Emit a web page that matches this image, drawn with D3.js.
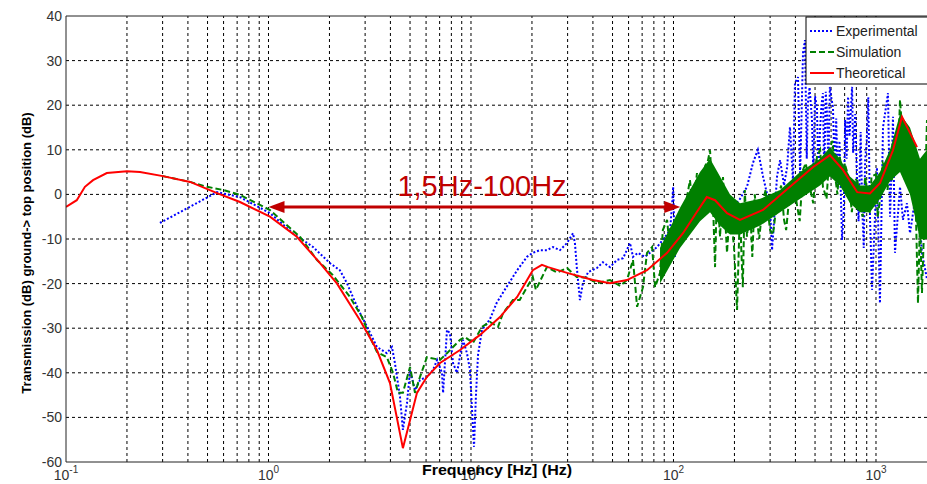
<!DOCTYPE html>
<html>
<head>
<meta charset="utf-8">
<script src="https://cdn.jsdelivr.net/npm/d3@7"></script>
<style>
  body { margin: 0; background: #fff; }
  svg { display: block; font-family: Arial, "Liberation Sans", sans-serif; }
</style>
</head>
<body>
<div id="chart"></div>
<script>
// theoretical curve [Hz, dB]
var theoretical = [
  [0.1, -2.8], [0.113, -1.3], [0.124, 1.7], [0.136, 3.2], [0.159, 4.8], [0.2, 5.2], [0.232, 5.0],
  [0.301, 4.1], [0.41, 2.8], [0.557, 0.3], [0.723, -1.7], [1.017, -5], [1.38, -9.5], [1.797, -15.4],
  [2.18, -20], [2.83, -28.2], [3.43, -34.9], [3.98, -42.3], [4.61, -56.9], [5.41, -44.5], [6.06, -40.9],
  [7.03, -37.8], [8.83, -34.9], [11.08, -31.5], [13.9, -27.5], [16.9, -23], [20.2, -17], [22.4, -15.8],
  [24.0, -16.3], [29.8, -17.6], [40.0, -19.2], [48.6, -19.9], [58.9, -19.2], [74.0, -17], [93, -13.1],
  [111.4, -8.7], [130.6, -3.9], [146, -0.6], [160.4, -1.3], [183.8, -4.2], [213, -5.7], [276.8, -3.5],
  [376, 1.7], [488, 6.1], [592, 8.8], [687, 5.5], [808, 0.5], [934, 0.2], [1046, 2.5], [1213, 9.9],
  [1344, 17.4], [1472, 13.8], [1594, 10.6]
];

// simulation [Hz, dB]
var simulation = [
  [0.301, 4.1], [0.41, 2.8], [0.497, 1.7], [0.596, 1.0], [0.723, -0.1], [1.017, -3.5], [1.43, -9.5],
  [1.736, -14.7], [2.08, -18.1], [2.525, -23], [2.895, -27.5], [3.17, -32], [3.43, -35.3], [3.84, -36.5],
  [4.12, -40], [4.36, -44.5], [4.61, -44.5], [5.0, -38.7], [5.29, -44.5], [5.6, -40.9], [6.06, -36.5],
  [7.03, -37.1], [7.61, -35.6], [8.83, -32.6], [9.33, -32], [10.23, -33.3], [11.33, -29.7], [12.4, -28.6],
  [13.6, -29.7], [14.4, -26.6], [16.1, -23.7], [17.4, -23.7], [18.9, -20.8], [20.2, -18.5], [20.9, -21.4],
  [23.7, -16.3], [26.6, -17.5], [29.8, -16.5], [33.3, -18.5], [37.4, -18.7], [41.9, -19.9], [48.6, -19.2],
  [54.5, -20.5], [58.9, -19.2], [63.1, -14.7], [66.1, -25.2], [70.7, -20.8], [74.0, -13.1], [78.4, -11.8],
  [81.1, -20.8], [85.8, -17.6], [88.6, -8], [93.0, -5.7], [96.2, -13.1], [101.7, -5.7], [107.7, -7.3],
  [116.6, -0.6], [120.6, 3.2], [124.8, -3.5], [130.6, 4.8], [135.2, -1.3], [143.1, 6.3], [148, 7.6],
  [151.5, 9.9], [156.7, -2], [160.4, -16.3], [164, 1.7], [169.8, -9.5], [175.6, 3.9], [183.8, -13.1],
  [190.2, -2], [199, -11.8], [206, -25.9], [213, -2.8], [216, -12], [220, -20.8], [225, 1], [230.6, -9.5],
  [238.6, -2], [245, -14], [252, 0], [258.6, -5.7], [265, -10], [276.8, -1.5], [285, 1], [299.8, -8],
  [310, -9], [324.5, -1.5], [340, 2], [351.5, -5.7], [360, -8], [376, 1.0], [390, 3], [407.6, -2.5],
  [420, -6], [436, 5.5], [450, 7], [472, 1.5], [490, -2], [511, 8.5], [530, 10], [547, 1.7], [570, -1],
  [592, 10.6], [610, 12], [627, 4.5], [645, 0], [664, 8.5], [687, 1.7], [700, 7], [720, 5.0], [744, 0.3],
  [760, -4], [788, 3.5], [810, 3], [835, -2.8], [860, -5], [884, 3.8], [934, -4.2], [950, 4], [1000, 4.5],
  [1020, -5], [1046, -1.3], [1080, 7], [1108, 6.0], [1140, 1], [1173, 7.7], [1200, 3], [1241, 13],
  [1280, 6], [1314, 21.2], [1359, 12], [1390, 3], [1422, 14.4], [1472, 8], [1523, 5.5], [1576, -5],
  [1612, -24.4], [1649, -5.7], [1687, -22.1], [1726, -8], [1786, 16.7]
];

// dense part of the simulation band [Hz, upper dB, lower dB]
var simulationBand = [
  [85.8, -12, -20], [107.7, -3, -12], [135.2, 5, -6], [151.5, 8, -4], [169.8, 4, -7], [190.2, 0, -9],
  [213, -2, -9], [268, -1, -7], [336, 1, -4], [422, 5, -1], [529, 8, 2], [592, 10.5, 4], [664, 8, 2],
  [744, 4, -2], [835, 2, -4], [934, 2, -4], [1046, 5, -1], [1173, 10, 3], [1314, 18, 5], [1472, 15, 0],
  [1649, 8, -10], [1786, 10, -10]
];

// experimental [Hz, dB]
var experimental = [
  [0.291, -6.4], [0.557, 0.5], [0.723, -0.6], [1.017, -4.2], [1.32, -8.7], [1.66, -11.8], [2.01, -15.4],
  [2.25, -17], [2.44, -19.9], [2.61, -23], [2.83, -26.6], [3.07, -29.7], [3.43, -34.2], [3.84, -35.6],
  [4.07, -34.2], [4.21, -37.8], [4.46, -45.4], [4.61, -52.8], [4.83, -46.8], [5.0, -39.4], [5.29, -43.9],
  [5.6, -41.6], [6.06, -40.9], [6.49, -39.4], [6.8, -37.1], [7.19, -40], [7.28, -44.5], [7.61, -30.4],
  [7.87, -31.1], [8.15, -37.8], [8.53, -40], [9.13, -32.6], [9.55, -35.6], [9.89, -39.4], [10.11, -48],
  [10.35, -56.6], [10.58, -45], [10.83, -36], [11.33, -30.4], [12.4, -28], [13.4, -24.3], [14.4, -22],
  [15.6, -19.5], [16.9, -17], [18.9, -14], [20.2, -13.1], [21.9, -12.5], [23.7, -12.5], [25.4, -11.8],
  [27.5, -12.5], [29.8, -10.9], [31.9, -8.7], [32.6, -10.9], [33.3, -16.3], [34.5, -23.7], [35.7, -19.9],
  [37.9, -17.4], [41.9, -16.5], [44.8, -15.2], [48.6, -16.3], [52.6, -14.7], [56.4, -14.3], [61, -10.9],
  [63.1, -14], [66.8, -13.1], [72.3, -14], [76.6, -13.1], [83, -11.8], [88.6, -10.2], [96.2, -8],
  [98.5, -2], [99.6, 1.7], [100.6, -5.7], [101.7, -14], [105.2, -4.9], [111.4, -3.5], [120.6, -2.8],
  [130.6, -4.2], [139.8, -2], [151.5, -1.3], [164, -0.6], [175.6, 0.3], [197, -2.8], [213, -1],
  [230.6, 1.7], [247, 7.1], [261, 10], [276.8, 4], [299.8, -2.8], [306.7, -12.5], [324.5, 4], [336, 7.7],
  [351.5, 2], [364, 6.1], [376, 15.1], [389, 3], [398, 25], [412, 26.3], [422, 4], [436, 31.7],
  [446, 34.6], [455, 8], [461, 20.5], [470, 24], [483, 16.7], [490, 5], [500, 22], [511, 19.6], [520, 3],
  [529, 14.4], [538, 20], [547, 22.7], [555, 4], [565, 23], [573, 18], [582, 6], [592, 24.1], [600, 22],
  [613, 19.6], [625, 5], [636, 17], [649, 1.7], [660, 12], [680, -10.2], [693, -4], [704, 16.7],
  [716, 8], [728, 21.9], [740, 13], [762, 24.1], [771, 9.3], [790, 18], [808, 1.7], [820, -6], [840, 14],
  [855, -2.8], [870, -12], [884, 7.7], [900, 12], [916, 21.8], [934, -5], [956, -21.4], [1011, 6],
  [1046, -24.4], [1083, 15], [1146, 22.7], [1173, -5], [1199, 7.7], [1213, 17.4], [1241, -13.1],
  [1314, 1.7], [1359, -5.7], [1422, -2], [1472, -8.7], [1506, -5.7], [1594, 1.7], [1687, -13.1],
  [1786, -19]
];

var yTicks = [-60, -50, -40, -30, -20, -10, 0, 10, 20, 30, 40];
var xDecades = [-1, 0, 1, 2, 3];
var seriesNames = ["Experimental", "Simulation", "Theoretical"];
var bandLabel = "1,5Hz-100Hz";
var bandRange = [1, 108];   // arrow ends, Hz
var bandLevel = -2.8;       // arrow height, dB

var W = 927, H = 484;
var margin = { top: 16, right: -3, bottom: 22, left: 66 };

var svg = d3.select("#chart").append("svg")
    .attr("width", W)
    .attr("height", H);

var x = d3.scaleLog()
    .domain([0.1, 1848])
    .range([margin.left, W - margin.right]);

var y = d3.scaleLinear()
    .domain([-60, 40])
    .range([H - margin.bottom, margin.top]);

svg.append("defs").append("clipPath").attr("id", "clip")
    .append("rect")
    .attr("x", margin.left).attr("y", margin.top)
    .attr("width", W - margin.right - margin.left)
    .attr("height", H - margin.bottom - margin.top);

// grid lines
var minor = [];
xDecades.forEach(function (e) {
    for (var k = 1; k < 10; k++) {
        var v = k * Math.pow(10, e);
        if (v > 0.1 && v < 1848) minor.push(v);
    }
});
svg.append("g").selectAll("line")
    .data(minor)
    .enter().append("line")
    .attr("x1", function (d) { return x(d); })
    .attr("x2", function (d) { return x(d); })
    .attr("y1", y(-60))
    .attr("y2", y(40))
    .attr("stroke", "#000")
    .attr("stroke-width", 1)
    .attr("stroke-dasharray", "3,3");

svg.append("g").selectAll("line")
    .data(yTicks.slice(1, -1))
    .enter().append("line")
    .attr("x1", margin.left)
    .attr("x2", W)
    .attr("y1", function (d) { return y(d); })
    .attr("y2", function (d) { return y(d); })
    .attr("stroke", "#000")
    .attr("stroke-width", 1)
    .attr("stroke-dasharray", "3,3");

var plot = svg.append("g").attr("clip-path", "url(#clip)");

var line = d3.line()
    .x(function (d) { return x(d[0]); })
    .y(function (d) { return y(d[1]); });

// experimental
plot.append("path")
    .datum(experimental)
    .attr("fill", "none")
    .attr("stroke", "#0000ff")
    .attr("stroke-width", 2)
    .attr("stroke-dasharray", "2,2")
    .attr("d", line);

// simulation band + line
plot.append("path")
    .datum(simulationBand)
    .attr("fill", "#008000")
    .attr("d", d3.area()
        .x(function (d) { return x(d[0]); })
        .y0(function (d) { return y(d[2]); })
        .y1(function (d) { return y(d[1]); }));

plot.append("path")
    .datum(simulation)
    .attr("fill", "none")
    .attr("stroke", "#008000")
    .attr("stroke-width", 2)
    .attr("stroke-dasharray", "6,3")
    .attr("d", line);

// theoretical
plot.append("path")
    .datum(theoretical)
    .attr("fill", "none")
    .attr("stroke", "#ff0000")
    .attr("stroke-width", 2)
    .attr("d", line);

// axes box
svg.append("line")
    .attr("x1", margin.left).attr("x2", margin.left)
    .attr("y1", y(40)).attr("y2", y(-60))
    .attr("stroke", "#222").attr("stroke-width", 1);
svg.append("line")
    .attr("x1", margin.left).attr("x2", W)
    .attr("y1", y(-60)).attr("y2", y(-60))
    .attr("stroke", "#222").attr("stroke-width", 1);
svg.append("line")
    .attr("x1", margin.left).attr("x2", W)
    .attr("y1", y(40)).attr("y2", y(40))
    .attr("stroke", "#222").attr("stroke-width", 1);

// y tick labels
svg.append("g").selectAll("text")
    .data(yTicks)
    .enter().append("text")
    .attr("x", margin.left - 4)
    .attr("y", function (d) { return y(d) + 5; })
    .attr("text-anchor", "end")
    .style("font-size", "14px")
    .style("fill", "#333")
    .text(function (d) { return d; });

// x tick labels 10^n
var xl = svg.append("g").selectAll("text")
    .data(xDecades)
    .enter().append("text")
    .attr("x", function (d) { return x(Math.pow(10, d)); })
    .attr("y", H - 4)
    .attr("text-anchor", "middle")
    .style("font-size", "14px")
    .style("fill", "#333");
xl.append("tspan").text("10");
xl.append("tspan")
    .attr("dy", -7)
    .style("font-size", "10px")
    .text(function (d) { return d; });

// axis titles
svg.append("text")
    .attr("x", 497)
    .attr("y", H - 9)
    .attr("text-anchor", "middle")
    .attr("textLength", 150)
    .attr("lengthAdjust", "spacingAndGlyphs")
    .style("font-size", "15px")
    .style("font-weight", "bold")
    .text("Frequency [Hz]  (Hz)");

svg.append("text")
    .attr("transform", "translate(31," + 253 + ") rotate(-90)")
    .attr("text-anchor", "middle")
    .style("font-size", "13px")
    .style("font-weight", "bold")
    .text("Transmission (dB) ground-> top position (dB)");

// annotation arrow
var arrowColor = "#c00000";
var ax1 = x(bandRange[0]), ax2 = x(bandRange[1]), ay = y(bandLevel);
svg.append("line")
    .attr("x1", ax1 + 14).attr("x2", ax2 - 14)
    .attr("y1", ay).attr("y2", ay)
    .attr("stroke", arrowColor)
    .attr("stroke-width", 3);
svg.append("path")
    .attr("d", "M" + ax1 + "," + ay + " l16,-6 l0,12 z")
    .attr("fill", arrowColor);
svg.append("path")
    .attr("d", "M" + ax2 + "," + ay + " l-16,-6 l0,12 z")
    .attr("fill", arrowColor);
svg.append("text")
    .attr("x", 482)
    .attr("y", ay - 11)
    .attr("text-anchor", "middle")
    .style("font-size", "29px")
    .style("fill", arrowColor)
    .text(bandLabel);

// legend
var lg = svg.append("g").attr("transform", "translate(806,17)");
lg.append("rect")
    .attr("width", 130).attr("height", 67)
    .attr("fill", "#fff")
    .attr("stroke", "#000");
var styles = [
    { c: "#0000ff", dash: "2,2" },
    { c: "#008000", dash: "6,3" },
    { c: "#ff0000", dash: null }
];
seriesNames.forEach(function (n, i) {
    var ly = 14 + i * 21;
    lg.append("line")
        .attr("x1", 4).attr("x2", 28)
        .attr("y1", ly).attr("y2", ly)
        .attr("stroke", styles[i].c)
        .attr("stroke-width", 2)
        .attr("stroke-dasharray", styles[i].dash);
    lg.append("text")
        .attr("x", 30)
        .attr("y", ly + 5)
        .style("font-size", "14px")
        .style("fill", "#222")
        .text(n);
});
</script>
</body>
</html>
